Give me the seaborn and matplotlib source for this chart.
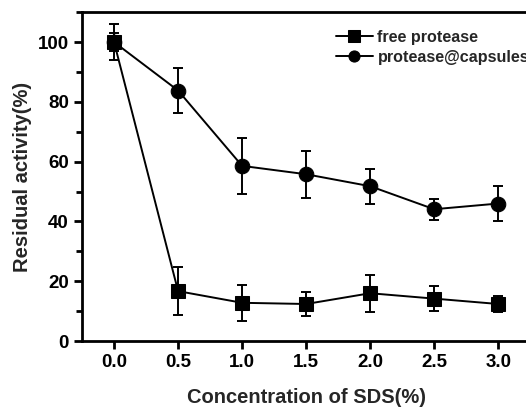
import numpy as np
import pandas as pd
import matplotlib
matplotlib.use("Agg")
import matplotlib.pyplot as plt
from matplotlib.ticker import MultipleLocator
import seaborn as sns

# Data
sds = [0.0, 0.5, 1.0, 1.5, 2.0, 2.5, 3.0]
free_mean = [100.0, 16.7, 12.8, 12.4, 16.0, 14.2, 12.4]
free_err = [3.0, 8.0, 6.1, 4.0, 6.2, 4.3, 2.8]
caps_mean = [100.0, 83.8, 58.6, 55.8, 51.8, 44.1, 46.0]
caps_err = [6.0, 7.4, 9.3, 7.8, 5.8, 3.5, 6.0]

labels = ["free protease", "protease@capsules"]

sns.set_theme(style="ticks")
plt.rcParams["font.family"] = ["Liberation Sans", "DejaVu Sans"]
plt.rcParams["font.weight"] = "bold"

df = pd.DataFrame({
    "sds": sds * 2,
    "activity": free_mean + caps_mean,
    "sample": [labels[0]] * len(sds) + [labels[1]] * len(sds),
})

fig = plt.figure(figsize=(5.26, 4.07), dpi=100)
ax = fig.add_axes([0.156, 0.162, 0.852, 0.808])

sns.lineplot(
    data=df, x="sds", y="activity", hue="sample", style="sample",
    markers={labels[0]: "s", labels[1]: "o"}, dashes=False,
    palette={labels[0]: "black", labels[1]: "black"},
    markersize=9.5, linewidth=1.4, markeredgecolor="black", ax=ax,
)
# circles a bit larger
for line in ax.lines:
    if line.get_marker() == "o":
        line.set_markersize(10.5)

ax.errorbar(sds, free_mean, yerr=free_err, fmt="none", ecolor="black",
            elinewidth=1.4, capsize=3.5, capthick=1.4)
ax.errorbar(sds, caps_mean, yerr=caps_err, fmt="none", ecolor="black",
            elinewidth=1.4, capsize=3.5, capthick=1.4)

ax.set_xlim(-0.25, 3.25)
ax.set_ylim(0, 110)
ax.set_xticks(sds)
ax.set_xticklabels([f"{v:.1f}" for v in sds])
ax.yaxis.set_major_locator(MultipleLocator(20))
ax.yaxis.set_minor_locator(MultipleLocator(10))
ax.tick_params(axis="both", which="major", length=6, width=2, direction="out",
               labelsize=13.5, color="black", labelcolor="black")
ax.tick_params(axis="y", which="minor", length=4, width=2, direction="out",
               color="black")
for lab in ax.get_xticklabels() + ax.get_yticklabels():
    lab.set_fontweight("bold")

for s in ax.spines.values():
    s.set_linewidth(2)
    s.set_color("black")

ax.set_xlabel("Concentration of SDS(%)", fontsize=14.5, fontweight="bold",
              labelpad=12)
ax.set_ylabel("Residual activity(%)", fontsize=14.5, fontweight="bold",
              labelpad=4)

leg = ax.legend(loc="upper left", bbox_to_anchor=(0.537, 0.985), frameon=False,
                fontsize=11.6, handlelength=2.3, handletextpad=0.3,
                labelspacing=0.3, borderaxespad=0.4)
for t in leg.get_texts():
    t.set_fontweight("bold")
for h in leg.legend_handles:
    h.set_markersize(8)

fig.savefig("out.png", dpi=100)
